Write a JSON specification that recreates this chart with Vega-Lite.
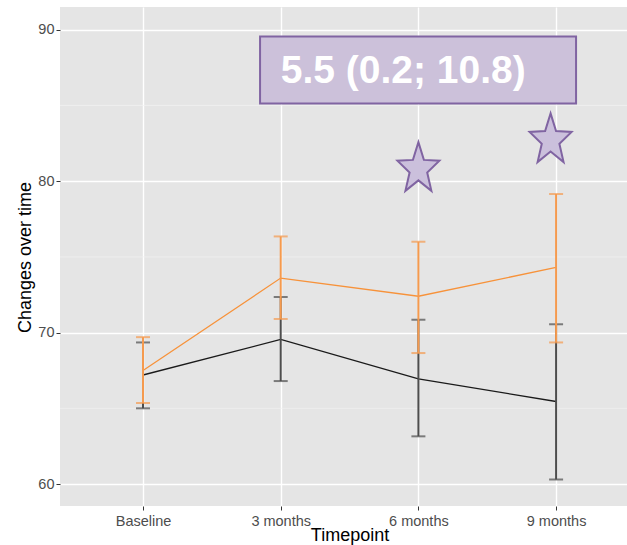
{
  "$schema": "https://vega.github.io/schema/vega-lite/v6.json",
  "autosize": "none",
  "width": 567,
  "height": 499,
  "padding": {"left": 60, "top": 7, "right": 0, "bottom": 39},
  "background": "white",
  "config": {
    "view": {"fill": "#E5E5E5", "stroke": null},
    "axis": {
      "labelFont": "Liberation Sans",
      "labelFontSize": 14.5,
      "labelColor": "#4D4D4D",
      "tickColor": "#333333",
      "tickSize": 4,
      "tickWidth": 1,
      "domain": false,
      "grid": true,
      "gridColor": "#FFFFFF",
      "gridWidth": 1.4,
      "titleFont": "Liberation Sans",
      "titleFontSize": 18,
      "titleFontWeight": "normal",
      "titleColor": "#000000"
    }
  },
  "datasets": {
    "main": [
      {"idx": 1, "tp": "Baseline", "grp": "A", "y": 67.2, "lo": 65.0, "hi": 69.35},
      {"idx": 2, "tp": "3 months", "grp": "A", "y": 69.55, "lo": 66.8, "hi": 72.35},
      {"idx": 3, "tp": "6 months", "grp": "A", "y": 66.95, "lo": 63.15, "hi": 70.85},
      {"idx": 4, "tp": "9 months", "grp": "A", "y": 65.45, "lo": 60.3, "hi": 70.55},
      {"idx": 1, "tp": "Baseline", "grp": "B", "y": 67.5, "lo": 65.35, "hi": 69.7},
      {"idx": 2, "tp": "3 months", "grp": "B", "y": 73.6, "lo": 70.9, "hi": 76.35},
      {"idx": 3, "tp": "6 months", "grp": "B", "y": 72.4, "lo": 68.65, "hi": 76.0},
      {"idx": 4, "tp": "9 months", "grp": "B", "y": 74.3, "lo": 69.35, "hi": 79.15}
    ],
    "minor": [{"y": 65}, {"y": 75}, {"y": 85}],
    "stars": [{"idx": 3, "y": 80.8}, {"idx": 3.96, "y": 82.7}],
    "box": [{"idx": 1.85, "idx2": 4.145, "y": 85.12, "y2": 89.56}],
    "label": [{"idx": 2.0, "y": 86.45, "text": "5.5 (0.2; 10.8)"}]
  },
  "layer": [
    {
      "data": {"name": "minor"},
      "mark": {"type": "rule", "color": "#F2F2F2", "strokeWidth": 0.7},
      "encoding": {
        "y": {"field": "y", "type": "quantitative", "title": "Changes over time", "scale": {"domain": [58.55, 91.5], "nice": false, "zero": false}}
      }
    },
    {
      "data": {"name": "main"},
      "mark": {"type": "line", "strokeWidth": 1.3},
      "encoding": {
        "x": {
          "field": "idx", "type": "quantitative", "title": "Timepoint",
          "scale": {"domain": [0.397, 4.515], "nice": false, "zero": false},
          "axis": {
            "values": [1, 2, 3, 4],
            "labelExpr": "datum.value == 1 ? 'Baseline' : datum.value == 2 ? '3 months' : datum.value == 3 ? '6 months' : '9 months'",
            "labelBaseline": "alphabetic",
            "labelPadding": 15.5,
            "labelFlush": false,
            "labelOverlap": false,
            "titleX": 289.5,
            "titleY": 34,
            "titleBaseline": "alphabetic",
            "titleAlign": "center"
          }
        },
        "y": {
          "field": "y", "type": "quantitative", "title": "Changes over time",
          "scale": {"domain": [58.55, 91.5], "nice": false, "zero": false},
          "axis": {
            "values": [60, 70, 80, 90],
            "labelPadding": 2,
            "titleX": -30,
            "titleY": 250,
            "titleAngle": -90,
            "titleBaseline": "alphabetic",
            "titleAlign": "center"
          }
        },
        "color": {"field": "grp", "type": "nominal", "scale": {"domain": ["A", "B"], "range": ["#1A1A1A", "#F7923A"]}, "legend": null}
      }
    },
    {
      "data": {"name": "main"},
      "transform": [{"filter": "datum.grp == 'A'"}],
      "mark": {"type": "errorbar", "color": "#4D4D4D", "thickness": 2, "ticks": {"size": 14, "color": "#4D4D4D"}},
      "encoding": {
        "x": {"field": "idx", "type": "quantitative", "title": "Timepoint", "scale": {"domain": [0.397, 4.515], "nice": false, "zero": false}},
        "y": {"field": "lo", "type": "quantitative", "title": "Changes over time", "scale": {"domain": [58.55, 91.5], "nice": false, "zero": false}},
        "y2": {"field": "hi"}
      }
    },
    {
      "data": {"name": "main"},
      "transform": [{"filter": "datum.grp == 'B'"}],
      "mark": {"type": "errorbar", "color": "#F59A4E", "thickness": 2, "ticks": {"size": 14, "color": "#F59A4E"}},
      "encoding": {
        "x": {"field": "idx", "type": "quantitative", "title": "Timepoint", "scale": {"domain": [0.397, 4.515], "nice": false, "zero": false}},
        "y": {"field": "lo", "type": "quantitative", "title": "Changes over time", "scale": {"domain": [58.55, 91.5], "nice": false, "zero": false}},
        "y2": {"field": "hi"}
      }
    },
    {
      "data": {"name": "box"},
      "mark": {"type": "rect", "fill": "#CCC1DA", "stroke": "#8064A2", "strokeWidth": 2},
      "encoding": {
        "x": {"field": "idx", "type": "quantitative", "title": "Timepoint", "scale": {"domain": [0.397, 4.515], "nice": false, "zero": false}},
        "x2": {"field": "idx2"},
        "y": {"field": "y", "type": "quantitative", "title": "Changes over time", "scale": {"domain": [58.55, 91.5], "nice": false, "zero": false}},
        "y2": {"field": "y2"}
      }
    },
    {
      "data": {"name": "label"},
      "mark": {"type": "text", "align": "left", "baseline": "alphabetic", "font": "Liberation Sans", "fontWeight": "bold", "fontSize": 39, "color": "#FFFFFF"},
      "encoding": {
        "x": {"field": "idx", "type": "quantitative", "title": "Timepoint", "scale": {"domain": [0.397, 4.515], "nice": false, "zero": false}},
        "y": {"field": "y", "type": "quantitative", "title": "Changes over time", "scale": {"domain": [58.55, 91.5], "nice": false, "zero": false}},
        "text": {"field": "text"}
      }
    },
    {
      "data": {"name": "stars"},
      "mark": {
        "type": "point",
        "shape": "M0,-1L0.203,-0.34L0.78,-0.309L0.327,0.13L0.482,0.809L0,0.42L-0.482,0.809L-0.327,0.13L-0.78,-0.309L-0.203,-0.34Z",
        "size": 2900,
        "filled": true,
        "fill": "#CBC0DC",
        "stroke": "#8064A2",
        "strokeWidth": 2,
        "opacity": 1
      },
      "encoding": {
        "x": {"field": "idx", "type": "quantitative", "title": "Timepoint", "scale": {"domain": [0.397, 4.515], "nice": false, "zero": false}},
        "y": {"field": "y", "type": "quantitative", "title": "Changes over time", "scale": {"domain": [58.55, 91.5], "nice": false, "zero": false}}
      }
    }
  ]
}
